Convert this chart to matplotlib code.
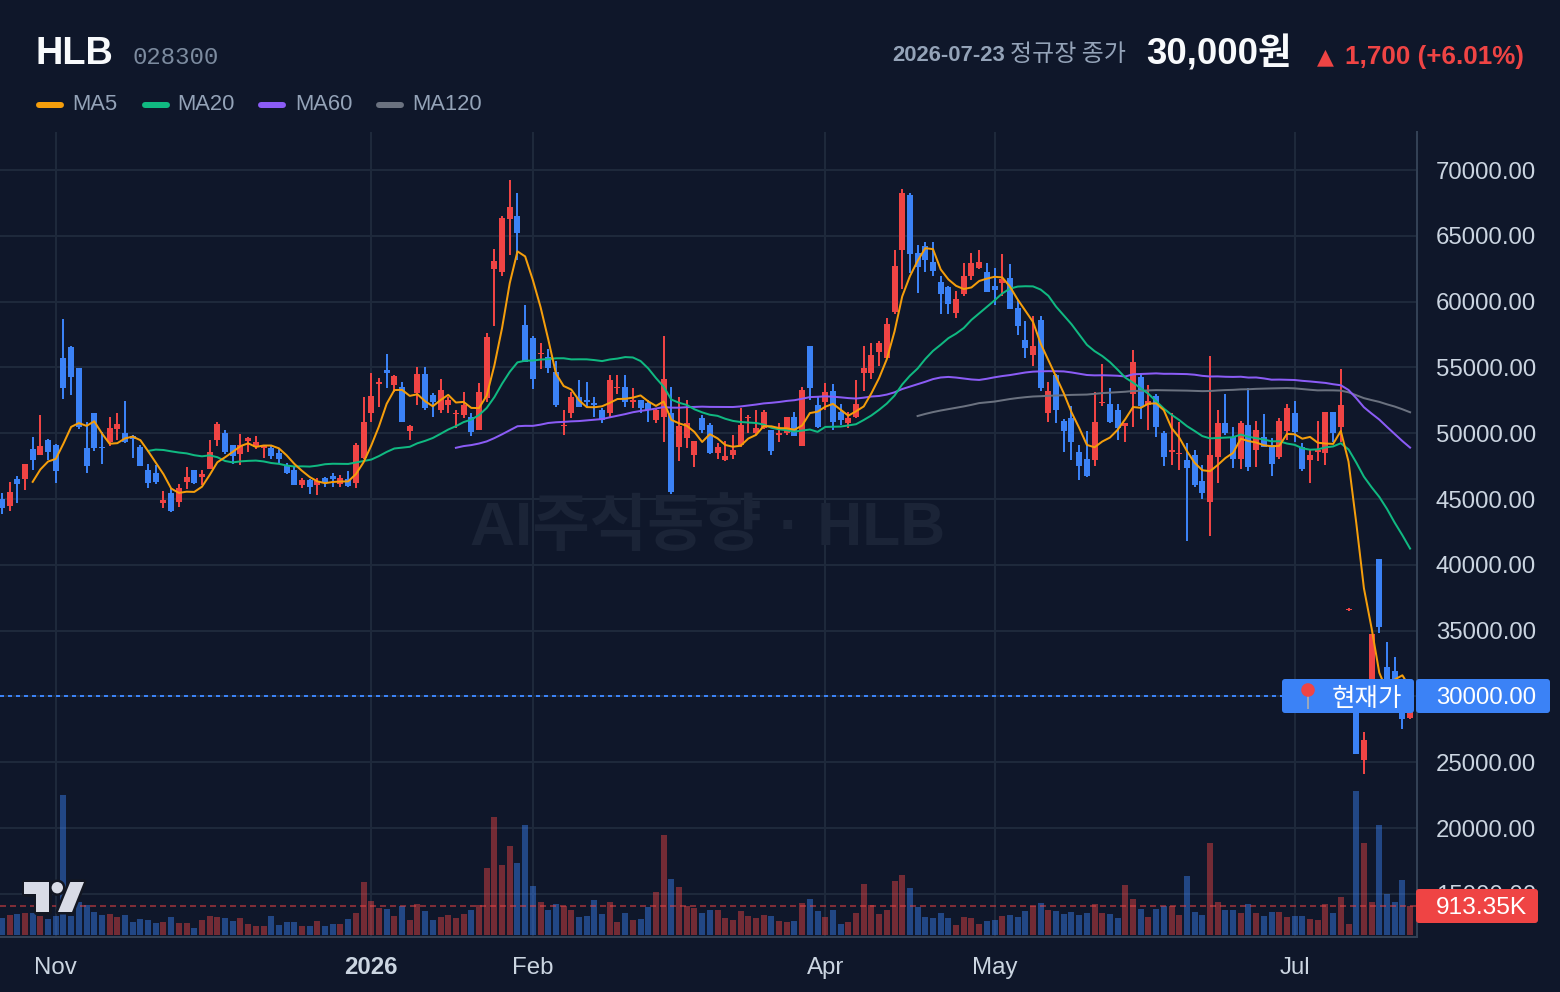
import matplotlib
matplotlib.use("Agg")
import matplotlib.pyplot as plt
import numpy as np
import pandas as pd
from matplotlib.patches import Circle, FancyBboxPatch, Polygon

plt.rcParams['font.family'] = ['Liberation Sans', 'Noto Sans CJK KR', 'DejaVu Sans']

# Daily OHLC in won
opens = [
    45000,44470,46510,46510,48780,48320,49460,49080,55730,56560,
    54980,48850,51500,48950,49300,50290,49990,49760,48930,47190,
    46960,44690,45450,44770,46280,47190,46660,47260,49460,49990,
    49080,48400,49380,48930,48850,48850,48470,47570,47190,46050,
    46430,46050,46580,46740,46130,46510,46200,48100,51500,53730,
    54770,53630,53480,50200,53020,54470,52870,51800,52180,51470,
    51420,51270,50280,52640,62460,62230,66270,66500,58200,57210,
    55990,55760,54620,50530,51570,52720,52560,52260,51800,51500,
    53400,53480,52340,52490,52260,51040,51270,51500,48990,49670,
    48380,51190,50660,48530,47970,48380,49140,51170,49980,50430,
    50280,49900,49980,51200,49060,56600,52110,52340,53180,51580,
    50740,51200,54550,54550,56140,55690,59190,63910,68100,63680,
    64220,63000,61480,61090,59110,60560,61930,62540,62240,61170,
    61400,61780,59500,57060,55920,58580,51500,54390,50960,51190,
    48540,48010,47930,52320,52250,51790,50580,53010,54290,52170,
    52850,49980,48590,48390,47930,48310,46340,44750,48230,50810,
    49750,48010,50660,48690,49750,49070,48230,50200,51570,48990,
    47930,48540,48460,51640,50510,36560,30480,25170,29220,40430,
    32230,31930,30300,28360,
]
highs = [
    45420,46280,46740,47690,49680,51350,49530,49200,58680,56640,
    54980,50820,51500,50060,51270,51570,52480,49830,49080,47640,
    47570,45600,45830,46130,47420,47190,47190,49460,50890,50210,
    49080,49910,49680,49760,49080,49000,48780,47720,47490,46580,
    46510,46580,46660,46960,46810,47110,49230,52780,54600,54160,
    55990,54390,53860,50660,55000,55000,53020,54090,52720,51800,
    53170,51500,53780,57590,63990,66500,69240,68250,59720,57360,
    56830,56370,55460,51800,53170,54010,53860,52790,51880,54390,
    54390,54390,53400,52560,52490,51880,57360,53480,52720,52490,
    49440,51350,50810,49290,49440,49900,51880,51350,51800,51800,
    50280,50810,51200,51650,53480,56600,52790,53780,53710,52190,
    51650,54010,56600,56830,56980,58730,63910,68550,68250,64290,
    64520,64520,61930,61170,60790,62920,63680,63910,62920,62540,
    63610,62840,60100,58500,58890,58890,53860,54470,51110,52100,
    49070,50200,53160,55280,53460,52250,50810,56340,54600,53690,
    53010,50200,51570,50880,49220,48690,47550,55890,51790,53010,
    50510,50960,53460,50960,51490,49670,51190,52250,52480,49220,
    48690,50960,51640,51640,54900,36710,30990,27300,34740,40430,
    34130,32990,30740,30200,
]
lows = [
    43860,44090,44700,45680,47190,48320,47940,46200,52630,52930,
    50290,46960,48620,47640,49000,49460,49230,48100,47490,45830,
    46130,44320,44010,44390,45750,46130,46050,47260,49000,48400,
    47640,47570,48550,48780,48100,48020,47640,46890,46050,45830,
    45370,45300,45900,45900,45900,45900,45830,48020,50820,52030,
    53400,53170,50890,49520,52110,51800,51270,51500,51500,50430,
    51120,49820,50280,52340,58120,61930,63530,63150,55380,53330,
    54850,54540,52030,49900,51120,52030,52030,51270,50810,51190,
    52950,52030,51880,51570,50890,50740,49370,45410,47920,48910,
    47460,49980,48450,48070,47920,48070,48990,49980,49900,50330,
    48380,49370,49900,49820,49060,52490,50430,51800,50280,50590,
    50430,51120,53180,54090,55080,55690,59040,60940,62160,60640,
    62240,61930,59040,59040,58730,60410,61630,62460,60710,59720,
    60410,59420,57440,55690,55080,53180,50890,50740,48610,47930,
    46420,46640,47480,52100,50810,49450,49370,50510,51110,50280,
    49750,47480,47550,47170,41800,45890,44980,42170,46190,49900,
    47330,47250,47100,47400,48920,46720,48010,49450,49300,47100,
    46190,47860,47550,49300,49370,36480,25630,24110,29100,34810,
    29220,29480,27520,28300,
]
closes = [
    44290,45520,46130,47640,47940,49000,48550,47110,53460,54290,
    50440,47490,48850,48850,50360,50670,49300,49530,47490,46200,
    46280,44920,44090,45830,46660,46200,46890,48550,50670,48550,
    48250,49080,49610,49300,49080,48250,48020,46960,46050,46430,
    45900,46360,46280,46510,46580,45980,49080,50820,52860,53860,
    54540,54320,50890,50580,54470,51880,52410,53250,52560,51570,
    52110,50130,53170,57290,63070,66350,67180,65200,55380,54090,
    56090,54920,52180,50660,52720,52030,52340,52110,51040,54010,
    53500,52410,52560,51880,51730,51800,54090,45560,50580,50810,
    49440,50280,48530,48990,48300,48760,50660,51270,50360,51650,
    48680,49990,51200,49820,53250,53400,50510,53100,50890,51040,
    51120,52190,54930,55920,56830,58280,62690,68250,63610,62620,
    63150,62310,60560,59800,60180,61930,62920,63000,60710,60870,
    61700,59420,58120,56450,56600,53400,53180,51800,50200,49370,
    47480,46720,50880,52400,50880,50430,50810,55430,52100,52480,
    50510,48230,48690,48460,47330,46040,45430,48310,50810,49980,
    48010,50810,47400,50280,48920,47630,50960,51950,50130,47250,
    48310,48760,51640,49980,52170,36660,25630,26690,34740,35270,
    29730,29980,28300,30000,
]
# Daily volume, thousands of shares
volumes = [
    540,633,664,695,685,602,509,602,4370,602,
    1038,945,727,633,664,571,633,415,509,477,
    384,415,571,384,384,228,477,602,571,540,
    446,540,353,291,291,602,322,415,415,291,
    291,446,291,353,353,509,695,1661,1069,851,
    820,602,913,477,976,758,477,571,633,540,
    664,789,945,2097,3685,2190,2782,2252,3425,1526,
    1028,779,965,903,779,561,592,1090,654,1028,
    405,685,467,498,872,1339,3114,1744,1495,903,
    841,685,779,779,529,467,747,592,529,623,
    592,436,405,436,996,1121,747,561,779,343,
    405,685,1588,934,654,779,1682,1868,1464,872,
    561,529,685,529,311,561,529,343,436,467,
    602,633,571,758,913,1007,789,758,664,727,
    633,695,976,695,664,540,1567,1131,820,571,
    820,913,913,633,1848,727,633,2875,1038,789,
    789,695,976,695,602,727,727,571,602,602,
    509,477,976,695,1194,353,4495,2875,1038,3436,
    1287,1038,1723,913.35,
]
month_positions = [7, 48, 69, 107, 129, 168]
month_labels = ['Nov', '2026', 'Feb', 'Apr', 'May', 'Jul']
price_ticks = list(range(15000, 75000, 5000))
ma_windows = [120, 60, 20, 5]
last_price = 30000

BG = '#0f172a'
GRID = '#1e293b'
BORDER = '#334155'
UP = '#ef4444'
DOWN = '#3b82f6'
MA_COLORS = {5: '#f59e0b', 20: '#10b981', 60: '#8b5cf6', 120: '#6b7280'}
PX = 0.72  # points per pixel at 100 dpi

W, H = 1560, 992
fig = plt.figure(figsize=(W / 100, H / 100), dpi=100, facecolor=BG)
pane = [0, (H - 936.5) / H, 1417 / W, (936.5 - 132) / H]

ax = fig.add_axes(pane, facecolor=BG, zorder=1)
ax.set_xlim(-0.247, 183.9)
ax.set_ylim(11755, 72890)
ax.set_axisbelow(True)
ax.grid(True, color=GRID, linewidth=2 * PX)

ax.yaxis.tick_right()
ax.set_yticks(price_ticks)
ax.set_yticklabels([f'{p:.2f}' for p in price_ticks])
ax.set_xticks(month_positions)
ax.set_xticklabels(month_labels)
ax.tick_params(axis='y', length=0, pad=19 * PX, labelsize=24 * PX, labelcolor='#cbd5e1')
ax.tick_params(axis='x', length=0, pad=37.5 * PX, labelsize=24 * PX, labelcolor='#cbd5e1')
for tick_label in ax.get_xticklabels():
    tick_label.set_verticalalignment('baseline')
ax.get_xticklabels()[1].set_fontweight('bold')
for side in ('top', 'left'):
    ax.spines[side].set_visible(False)
for side in ('right', 'bottom'):
    ax.spines[side].set_color(BORDER)
    ax.spines[side].set_linewidth(2 * PX)

# Candles
idx = np.arange(len(closes))
o, h, l, c = map(np.array, (opens, highs, lows, closes))
colors = np.where(c >= o, UP, DOWN)
ax.vlines(idx, l, h, colors=colors, linewidth=2 * PX, zorder=3)
ax.bar(idx, np.abs(c - o), bottom=np.minimum(o, c), width=0.78, color=colors, linewidth=0, zorder=4)

# Moving averages of the close
close_series = pd.Series(closes, dtype=float)
for win in ma_windows:
    ax.plot(idx, close_series.rolling(win).mean(), color=MA_COLORS[win],
            linewidth=2 * PX, zorder=5, solid_joinstyle='round')

# Last price line
ax.axhline(last_price, color=DOWN, linewidth=2 * PX, linestyle=(0, (2, 2)), zorder=6)

# Volume pane shares the x axis and sits along the bottom
vax = fig.add_axes(pane, zorder=2)
vax.patch.set_visible(False)
vax.set_xlim(ax.get_xlim())
vax.set_ylim(-37, 25015)
vax.axis('off')
vax.bar(idx, volumes, width=0.78, color=colors, alpha=0.45, linewidth=0)
vax.axhline(volumes[-1], color=UP, alpha=0.5, linewidth=2 * PX, linestyle=(0, (3, 2)))

# Overlay addressed in figure pixels for the header, badges and logo
ov = fig.add_axes([0, 0, 1, 1], zorder=5)
ov.set_xlim(0, W)
ov.set_ylim(H, 0)
ov.axis('off')
ov.patch.set_visible(False)

ov.text(708, 529, 'AI주식동향 · HLB', fontsize=62.4 * PX, fontweight='bold', color='#1b2437',
        ha='center', va='center', zorder=0)

ov.text(36, 64, 'HLB', fontsize=38 * PX, fontweight='bold', color='#f8fafc', va='baseline')
ov.text(132, 64.5, '028300', fontsize=24 * PX, family='Liberation Mono', color='#7c8b9f', va='baseline')

ov.text(892, 61, '2026-07-23', fontsize=22 * PX, fontweight='bold', color='#94a3b8', va='baseline')
ov.text(1010, 61, '정규장 종가', fontsize=24 * PX, fontweight='medium', family='Noto Sans CJK KR',
        color='#94a3b8', va='baseline')
ov.text(1146, 64, '30,000원', fontsize=36.5 * PX, fontweight='bold', color='#f8fafc', va='baseline')
ov.text(1317, 63.5, '▲', fontsize=22 * PX, family='DejaVu Sans', color=UP, va='baseline')
ov.text(1524, 64, '1,700 (+6.01%)', fontsize=26 * PX, fontweight='bold', color=UP, ha='right', va='baseline')

legend_items = [('MA5', 5, 36, 72), ('MA20', 20, 142, 177), ('MA60', 60, 258, 295), ('MA120', 120, 376, 412)]
for label, win, sx, tx in legend_items:
    ov.plot([sx + 3, sx + 25], [104.5, 104.5], color=MA_COLORS[win], linewidth=6 * PX, solid_capstyle='round')
    ov.text(tx, 105, label, fontsize=22 * PX, color='#94a3b8', va='center')


def badge(x0, x1, y0, y1, color):
    ov.add_patch(FancyBboxPatch((x0, y0), x1 - x0, y1 - y0, boxstyle='round,pad=0,rounding_size=3',
                                facecolor=color, edgecolor='none', zorder=3))


badge(1282, 1414, 679, 713, DOWN)
badge(1416, 1550, 679, 713, DOWN)
badge(1416, 1538, 889, 923, UP)
ov.text(1367, 699, '현재가', fontsize=25.5 * PX, color='white', ha='center', va='center', zorder=4)
ov.text(1436, 697.5, f'{last_price:.2f}', fontsize=24 * PX, color='white', va='center', zorder=4)
ov.text(1481, 907.5, '913.35K', fontsize=24.5 * PX, color='white', ha='center', va='center', zorder=4)

# Map pin glyph on the current-price badge
ov.plot([1308, 1308], [696, 709], color='#9aa7bd', linewidth=2 * PX, solid_capstyle='butt', zorder=4)
ov.add_patch(Circle((1308, 690), 6.8, facecolor='#ef4444', edgecolor='none', zorder=5))

# Chart library logo mark: dark halo first, then the light shapes on top
stem_pts = [(24, 882), (49, 882), (49, 912), (36.3, 912), (36.3, 894), (24, 894)]
slash_pts = [(70.3, 882), (84, 882), (72, 912), (58, 912)]
dot = ((57.3, 887.7), 5.7)
halo = dict(facecolor='#131722', edgecolor='#131722', linewidth=5 * PX, zorder=6, joinstyle='round')
fill = dict(facecolor='#d9dce6', edgecolor='none', zorder=7)
for kw in (halo, fill):
    ov.add_patch(Polygon(stem_pts, **kw))
    ov.add_patch(Polygon(slash_pts, **kw))
    ov.add_patch(Circle(*dot, **kw))

fig.savefig('out.png', dpi=100, facecolor=BG)
